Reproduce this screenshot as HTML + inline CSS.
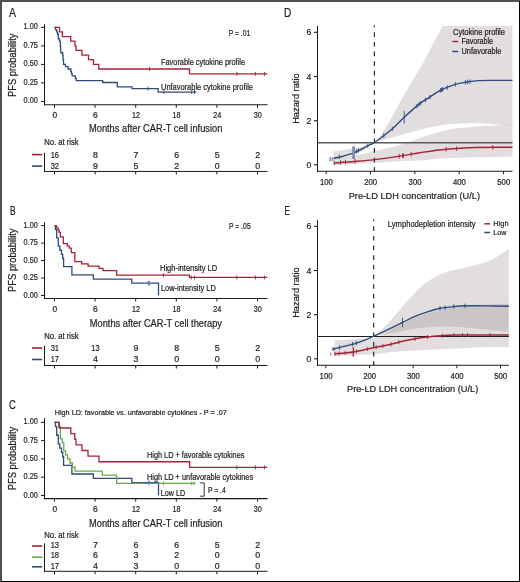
<!DOCTYPE html><html><head><meta charset="utf-8"><style>svg text{stroke:#231f20;stroke-width:0.22px}html,body{margin:0;padding:0;background:#fff;width:520px;height:582px;overflow:hidden;position:relative}</style></head><body><svg width="520" height="582" viewBox="0 0 520 582" style="position:absolute;left:0;top:0;font-family:'Liberation Sans',sans-serif;will-change:transform">
<rect x="0" y="0" width="520" height="582" fill="#ffffff"/>
<text x="9.0" y="16.8" font-size="12.2" textLength="7.0" lengthAdjust="spacingAndGlyphs" fill="#231f20">A</text>
<line x1="44.5" y1="24.2" x2="44.5" y2="105.25" stroke="#1a1a1a" stroke-width="1.0"/>
<line x1="41.0" y1="27.3" x2="44.5" y2="27.3" stroke="#1a1a1a" stroke-width="1.0"/>
<text x="37.9" y="29.3" font-size="9.0" text-anchor="end" textLength="14.3" lengthAdjust="spacingAndGlyphs" fill="#231f20">1.00</text>
<line x1="41.0" y1="45.9" x2="44.5" y2="45.9" stroke="#1a1a1a" stroke-width="1.0"/>
<text x="37.9" y="47.9" font-size="9.0" text-anchor="end" textLength="14.3" lengthAdjust="spacingAndGlyphs" fill="#231f20">0.75</text>
<line x1="41.0" y1="64.4" x2="44.5" y2="64.4" stroke="#1a1a1a" stroke-width="1.0"/>
<text x="37.9" y="66.4" font-size="9.0" text-anchor="end" textLength="14.3" lengthAdjust="spacingAndGlyphs" fill="#231f20">0.50</text>
<line x1="41.0" y1="82.9" x2="44.5" y2="82.9" stroke="#1a1a1a" stroke-width="1.0"/>
<text x="37.9" y="84.9" font-size="9.0" text-anchor="end" textLength="14.3" lengthAdjust="spacingAndGlyphs" fill="#231f20">0.25</text>
<line x1="41.0" y1="101.4" x2="44.5" y2="101.4" stroke="#1a1a1a" stroke-width="1.0"/>
<text x="37.9" y="103.4" font-size="9.0" text-anchor="end" textLength="14.3" lengthAdjust="spacingAndGlyphs" fill="#231f20">0.00</text>
<line x1="44.0" y1="104.75" x2="267.5" y2="104.75" stroke="#1a1a1a" stroke-width="1.1"/>
<line x1="54.5" y1="104.75" x2="54.5" y2="107.75" stroke="#1a1a1a" stroke-width="1.0"/>
<text x="54.8" y="118.4" font-size="8.4" text-anchor="middle" fill="#231f20">0</text>
<line x1="95.1" y1="104.75" x2="95.1" y2="107.75" stroke="#1a1a1a" stroke-width="1.0"/>
<text x="95.39999999999999" y="118.4" font-size="8.4" text-anchor="middle" fill="#231f20">6</text>
<line x1="135.7" y1="104.75" x2="135.7" y2="107.75" stroke="#1a1a1a" stroke-width="1.0"/>
<text x="136.0" y="118.4" font-size="8.4" text-anchor="middle" textLength="8.03" lengthAdjust="spacingAndGlyphs" fill="#231f20">12</text>
<line x1="176.3" y1="104.75" x2="176.3" y2="107.75" stroke="#1a1a1a" stroke-width="1.0"/>
<text x="176.60000000000002" y="118.4" font-size="8.4" text-anchor="middle" textLength="8.03" lengthAdjust="spacingAndGlyphs" fill="#231f20">18</text>
<line x1="216.9" y1="104.75" x2="216.9" y2="107.75" stroke="#1a1a1a" stroke-width="1.0"/>
<text x="217.20000000000002" y="118.4" font-size="8.4" text-anchor="middle" textLength="8.03" lengthAdjust="spacingAndGlyphs" fill="#231f20">24</text>
<line x1="257.5" y1="104.75" x2="257.5" y2="107.75" stroke="#1a1a1a" stroke-width="1.0"/>
<text x="257.8" y="118.4" font-size="8.4" text-anchor="middle" textLength="8.03" lengthAdjust="spacingAndGlyphs" fill="#231f20">30</text>
<text transform="translate(16.1,65.3) rotate(-90)" font-size="11.0" text-anchor="middle" textLength="63.4" lengthAdjust="spacingAndGlyphs" fill="#231f20">PFS probability</text>
<text x="89.0" y="132.4" font-size="10.3" textLength="133.3" lengthAdjust="spacingAndGlyphs" fill="#231f20">Months after CAR-T cell infusion</text>
<text x="44.2" y="145.0" font-size="8.2" textLength="34.5" lengthAdjust="spacingAndGlyphs" fill="#231f20">No. at risk</text>
<line x1="44.5" y1="152.9" x2="44.5" y2="171.95" stroke="#1a1a1a" stroke-width="1.0"/>
<line x1="44.0" y1="171.45" x2="267.5" y2="171.45" stroke="#1a1a1a" stroke-width="1.0"/>
<line x1="54.5" y1="171.45" x2="54.5" y2="174.45" stroke="#1a1a1a" stroke-width="1.0"/>
<line x1="95.1" y1="171.45" x2="95.1" y2="174.45" stroke="#1a1a1a" stroke-width="1.0"/>
<line x1="135.7" y1="171.45" x2="135.7" y2="174.45" stroke="#1a1a1a" stroke-width="1.0"/>
<line x1="176.3" y1="171.45" x2="176.3" y2="174.45" stroke="#1a1a1a" stroke-width="1.0"/>
<line x1="216.9" y1="171.45" x2="216.9" y2="174.45" stroke="#1a1a1a" stroke-width="1.0"/>
<line x1="257.5" y1="171.45" x2="257.5" y2="174.45" stroke="#1a1a1a" stroke-width="1.0"/>
<text x="54.8" y="157.5" font-size="8.8" text-anchor="middle" textLength="8.32" lengthAdjust="spacingAndGlyphs" fill="#231f20">16</text>
<text x="95.39999999999999" y="157.5" font-size="8.8" text-anchor="middle" fill="#231f20">8</text>
<text x="136.0" y="157.5" font-size="8.8" text-anchor="middle" fill="#231f20">7</text>
<text x="176.60000000000002" y="157.5" font-size="8.8" text-anchor="middle" fill="#231f20">6</text>
<text x="217.20000000000002" y="157.5" font-size="8.8" text-anchor="middle" fill="#231f20">5</text>
<text x="257.8" y="157.5" font-size="8.8" text-anchor="middle" fill="#231f20">2</text>
<line x1="32.0" y1="154.6" x2="42.2" y2="154.6" stroke="#a52339" stroke-width="1.6"/>
<text x="54.8" y="168.7" font-size="8.8" text-anchor="middle" textLength="8.32" lengthAdjust="spacingAndGlyphs" fill="#231f20">32</text>
<text x="95.39999999999999" y="168.7" font-size="8.8" text-anchor="middle" fill="#231f20">9</text>
<text x="136.0" y="168.7" font-size="8.8" text-anchor="middle" fill="#231f20">5</text>
<text x="176.60000000000002" y="168.7" font-size="8.8" text-anchor="middle" fill="#231f20">2</text>
<text x="217.20000000000002" y="168.7" font-size="8.8" text-anchor="middle" fill="#231f20">0</text>
<text x="257.8" y="168.7" font-size="8.8" text-anchor="middle" fill="#231f20">0</text>
<line x1="32.0" y1="166.1" x2="42.2" y2="166.1" stroke="#2f4b7b" stroke-width="1.6"/>
<text x="228.8" y="35.6" font-size="8.2" textLength="21.4" lengthAdjust="spacingAndGlyphs" fill="#231f20">P = .01</text>
<text x="161.0" y="64.9" font-size="8.3" textLength="84.0" lengthAdjust="spacingAndGlyphs" fill="#231f20">Favorable cytokine profile</text>
<text x="161.0" y="89.7" font-size="8.3" textLength="92.0" lengthAdjust="spacingAndGlyphs" fill="#231f20">Unfavorable cytokine profile</text>
<path d="M54.5,27.3 H55.5 V29.615625 H56.5 V31.93125 H57.5 V34.246875 H58.3 V38.878125 H59.5 V41.19375 H60.3 V45.825 H60.6 V50.45625 H60.8 V52.771874999999994 H62.7 V55.0875 H63.0 V59.71875 H63.5 V64.35 H65.4 V66.66562499999999 H68.1 V68.98125 H70.8 V71.296875 H71.5 V73.6125 H72.2 V75.928125 H75.4 V78.24374999999999 H76.2 V80.559375 H102.7 V82.5 H117.3 V86.8 H132.0 V88.65 H158.2 V92.1 H196.3" fill="none" stroke="#2f4b7b" stroke-width="1.3" stroke-linejoin="miter"/>
<path d="M54.5,27.3 H59.5 V31.93125 H62.3 V36.5625 H70.7 V41.19375 H75.0 V45.825 H76.0 V50.45625 H81.9 V55.0875 H88.5 V59.71875 H93.5 V64.35 H98.8 V68.98125 H189.4 V73.9 H267.2" fill="none" stroke="#a52339" stroke-width="1.3" stroke-linejoin="miter"/>
<line x1="149.6" y1="66.98125" x2="149.6" y2="70.98125" stroke="#a52339" stroke-width="0.9"/>
<line x1="236.9" y1="71.9" x2="236.9" y2="75.9" stroke="#a52339" stroke-width="0.9"/>
<line x1="255.4" y1="71.9" x2="255.4" y2="75.9" stroke="#a52339" stroke-width="0.9"/>
<line x1="264.6" y1="71.9" x2="264.6" y2="75.9" stroke="#a52339" stroke-width="0.9"/>
<line x1="148.0" y1="86.65" x2="148.0" y2="90.65" stroke="#2f4b7b" stroke-width="0.9"/>
<line x1="163.8" y1="90.1" x2="163.8" y2="94.1" stroke="#2f4b7b" stroke-width="0.9"/>
<line x1="191.7" y1="90.1" x2="191.7" y2="94.1" stroke="#2f4b7b" stroke-width="0.9"/>
<line x1="194.5" y1="90.1" x2="194.5" y2="94.1" stroke="#2f4b7b" stroke-width="0.9"/>
<text x="9.9" y="214.6" font-size="12.2" textLength="5.7" lengthAdjust="spacingAndGlyphs" fill="#231f20">B</text>
<line x1="44.5" y1="222.1" x2="44.5" y2="299.0" stroke="#1a1a1a" stroke-width="1.0"/>
<line x1="41.0" y1="225.6" x2="44.5" y2="225.6" stroke="#1a1a1a" stroke-width="1.0"/>
<text x="37.9" y="227.6" font-size="9.0" text-anchor="end" textLength="14.3" lengthAdjust="spacingAndGlyphs" fill="#231f20">1.00</text>
<line x1="41.0" y1="243.1" x2="44.5" y2="243.1" stroke="#1a1a1a" stroke-width="1.0"/>
<text x="37.9" y="245.1" font-size="9.0" text-anchor="end" textLength="14.3" lengthAdjust="spacingAndGlyphs" fill="#231f20">0.75</text>
<line x1="41.0" y1="260.55" x2="44.5" y2="260.55" stroke="#1a1a1a" stroke-width="1.0"/>
<text x="37.9" y="262.55" font-size="9.0" text-anchor="end" textLength="14.3" lengthAdjust="spacingAndGlyphs" fill="#231f20">0.50</text>
<line x1="41.0" y1="278.0" x2="44.5" y2="278.0" stroke="#1a1a1a" stroke-width="1.0"/>
<text x="37.9" y="280.0" font-size="9.0" text-anchor="end" textLength="14.3" lengthAdjust="spacingAndGlyphs" fill="#231f20">0.25</text>
<line x1="41.0" y1="295.5" x2="44.5" y2="295.5" stroke="#1a1a1a" stroke-width="1.0"/>
<text x="37.9" y="297.5" font-size="9.0" text-anchor="end" textLength="14.3" lengthAdjust="spacingAndGlyphs" fill="#231f20">0.00</text>
<line x1="44.0" y1="298.5" x2="267.5" y2="298.5" stroke="#1a1a1a" stroke-width="1.1"/>
<line x1="54.5" y1="298.5" x2="54.5" y2="301.5" stroke="#1a1a1a" stroke-width="1.0"/>
<text x="54.8" y="312.1" font-size="8.4" text-anchor="middle" fill="#231f20">0</text>
<line x1="95.1" y1="298.5" x2="95.1" y2="301.5" stroke="#1a1a1a" stroke-width="1.0"/>
<text x="95.39999999999999" y="312.1" font-size="8.4" text-anchor="middle" fill="#231f20">6</text>
<line x1="135.7" y1="298.5" x2="135.7" y2="301.5" stroke="#1a1a1a" stroke-width="1.0"/>
<text x="136.0" y="312.1" font-size="8.4" text-anchor="middle" textLength="8.03" lengthAdjust="spacingAndGlyphs" fill="#231f20">12</text>
<line x1="176.3" y1="298.5" x2="176.3" y2="301.5" stroke="#1a1a1a" stroke-width="1.0"/>
<text x="176.60000000000002" y="312.1" font-size="8.4" text-anchor="middle" textLength="8.03" lengthAdjust="spacingAndGlyphs" fill="#231f20">18</text>
<line x1="216.9" y1="298.5" x2="216.9" y2="301.5" stroke="#1a1a1a" stroke-width="1.0"/>
<text x="217.20000000000002" y="312.1" font-size="8.4" text-anchor="middle" textLength="8.03" lengthAdjust="spacingAndGlyphs" fill="#231f20">24</text>
<line x1="257.5" y1="298.5" x2="257.5" y2="301.5" stroke="#1a1a1a" stroke-width="1.0"/>
<text x="257.8" y="312.1" font-size="8.4" text-anchor="middle" textLength="8.03" lengthAdjust="spacingAndGlyphs" fill="#231f20">30</text>
<text transform="translate(16.1,260.2) rotate(-90)" font-size="11.0" text-anchor="middle" textLength="63.4" lengthAdjust="spacingAndGlyphs" fill="#231f20">PFS probability</text>
<text x="89.8" y="326.7" font-size="10.3" textLength="132.2" lengthAdjust="spacingAndGlyphs" fill="#231f20">Months after CAR-T cell therapy</text>
<text x="44.2" y="339.2" font-size="8.2" textLength="34.5" lengthAdjust="spacingAndGlyphs" fill="#231f20">No. at risk</text>
<line x1="44.5" y1="345.8" x2="44.5" y2="366.0" stroke="#1a1a1a" stroke-width="1.0"/>
<line x1="44.0" y1="365.5" x2="267.5" y2="365.5" stroke="#1a1a1a" stroke-width="1.0"/>
<line x1="54.5" y1="365.5" x2="54.5" y2="368.5" stroke="#1a1a1a" stroke-width="1.0"/>
<line x1="95.1" y1="365.5" x2="95.1" y2="368.5" stroke="#1a1a1a" stroke-width="1.0"/>
<line x1="135.7" y1="365.5" x2="135.7" y2="368.5" stroke="#1a1a1a" stroke-width="1.0"/>
<line x1="176.3" y1="365.5" x2="176.3" y2="368.5" stroke="#1a1a1a" stroke-width="1.0"/>
<line x1="216.9" y1="365.5" x2="216.9" y2="368.5" stroke="#1a1a1a" stroke-width="1.0"/>
<line x1="257.5" y1="365.5" x2="257.5" y2="368.5" stroke="#1a1a1a" stroke-width="1.0"/>
<text x="54.8" y="350.8" font-size="8.8" text-anchor="middle" textLength="8.32" lengthAdjust="spacingAndGlyphs" fill="#231f20">31</text>
<text x="95.39999999999999" y="350.8" font-size="8.8" text-anchor="middle" textLength="8.32" lengthAdjust="spacingAndGlyphs" fill="#231f20">13</text>
<text x="136.0" y="350.8" font-size="8.8" text-anchor="middle" fill="#231f20">9</text>
<text x="176.60000000000002" y="350.8" font-size="8.8" text-anchor="middle" fill="#231f20">8</text>
<text x="217.20000000000002" y="350.8" font-size="8.8" text-anchor="middle" fill="#231f20">5</text>
<text x="257.8" y="350.8" font-size="8.8" text-anchor="middle" fill="#231f20">2</text>
<line x1="32.0" y1="348.0" x2="42.2" y2="348.0" stroke="#a52339" stroke-width="1.6"/>
<text x="54.8" y="361.8" font-size="8.8" text-anchor="middle" textLength="8.32" lengthAdjust="spacingAndGlyphs" fill="#231f20">17</text>
<text x="95.39999999999999" y="361.8" font-size="8.8" text-anchor="middle" fill="#231f20">4</text>
<text x="136.0" y="361.8" font-size="8.8" text-anchor="middle" fill="#231f20">3</text>
<text x="176.60000000000002" y="361.8" font-size="8.8" text-anchor="middle" fill="#231f20">0</text>
<text x="217.20000000000002" y="361.8" font-size="8.8" text-anchor="middle" fill="#231f20">0</text>
<text x="257.8" y="361.8" font-size="8.8" text-anchor="middle" fill="#231f20">0</text>
<line x1="32.0" y1="359.5" x2="42.2" y2="359.5" stroke="#2f4b7b" stroke-width="1.6"/>
<text x="229.0" y="228.8" font-size="8.2" textLength="21.7" lengthAdjust="spacingAndGlyphs" fill="#231f20">P = .05</text>
<text x="160.0" y="271.2" font-size="8.3" textLength="57.2" lengthAdjust="spacingAndGlyphs" fill="#231f20">High-intensity LD</text>
<text x="161.0" y="291.2" font-size="8.3" textLength="54.8" lengthAdjust="spacingAndGlyphs" fill="#231f20">Low-intensity LD</text>
<path d="M54.5,225.6 H55.5 V229.71176470588236 H56.7 V237.93529411764706 H58.3 V246.15882352941176 H59.8 V250.2705882352941 H61.5 V254.38235294117646 H62.7 V258.49411764705883 H63.6 V266.7176470588235 H71.9 V274.94117647058823 H93.3 V279.0529411764706 H131.8 V283.16470588235296 H158.5 V295.5 H158.5" fill="none" stroke="#2f4b7b" stroke-width="1.3" stroke-linejoin="miter"/>
<path d="M54.5,225.6 H56.5 V227.8548387096774 H58.1 V230.10967741935482 H59.2 V232.36451612903224 H60.4 V236.8741935483871 H63.3 V243.63870967741934 H67.3 V245.89354838709676 H69.2 V248.14838709677417 H71.3 V252.65806451612903 H74.8 V261.6774193548387 H81.7 V263.93225806451613 H88.1 V266.18709677419355 H99.0 V268.44193548387096 H103.0 V270.6967741935484 H116.6 V275.2064516129032 H189.4 V277.4612903225806 H267.2" fill="none" stroke="#a52339" stroke-width="1.3" stroke-linejoin="miter"/>
<line x1="163.5" y1="273.2064516129032" x2="163.5" y2="277.2064516129032" stroke="#a52339" stroke-width="0.9"/>
<line x1="191.3" y1="275.4612903225806" x2="191.3" y2="279.4612903225806" stroke="#a52339" stroke-width="0.9"/>
<line x1="194.6" y1="275.4612903225806" x2="194.6" y2="279.4612903225806" stroke="#a52339" stroke-width="0.9"/>
<line x1="236.8" y1="275.4612903225806" x2="236.8" y2="279.4612903225806" stroke="#a52339" stroke-width="0.9"/>
<line x1="255.4" y1="275.4612903225806" x2="255.4" y2="279.4612903225806" stroke="#a52339" stroke-width="0.9"/>
<line x1="264.6" y1="275.4612903225806" x2="264.6" y2="279.4612903225806" stroke="#a52339" stroke-width="0.9"/>
<line x1="148.9" y1="280.86470588235295" x2="148.9" y2="285.464705882353" stroke="#6f84a8" stroke-width="2.4"/>
<text x="9.1" y="408.7" font-size="12.2" textLength="6.8" lengthAdjust="spacingAndGlyphs" fill="#231f20">C</text>
<text x="54.8" y="414.5" font-size="7.9" textLength="172.0" lengthAdjust="spacingAndGlyphs" fill="#231f20">High LD: favorable vs. unfavorable cytokines - P = .07</text>
<line x1="44.5" y1="418.3" x2="44.5" y2="499.15" stroke="#1a1a1a" stroke-width="1.0"/>
<line x1="41.0" y1="422.35" x2="44.5" y2="422.35" stroke="#1a1a1a" stroke-width="1.0"/>
<text x="37.9" y="424.35" font-size="9.0" text-anchor="end" textLength="14.3" lengthAdjust="spacingAndGlyphs" fill="#231f20">1.00</text>
<line x1="41.0" y1="440.6" x2="44.5" y2="440.6" stroke="#1a1a1a" stroke-width="1.0"/>
<text x="37.9" y="442.6" font-size="9.0" text-anchor="end" textLength="14.3" lengthAdjust="spacingAndGlyphs" fill="#231f20">0.75</text>
<line x1="41.0" y1="458.9" x2="44.5" y2="458.9" stroke="#1a1a1a" stroke-width="1.0"/>
<text x="37.9" y="460.9" font-size="9.0" text-anchor="end" textLength="14.3" lengthAdjust="spacingAndGlyphs" fill="#231f20">0.50</text>
<line x1="41.0" y1="477.2" x2="44.5" y2="477.2" stroke="#1a1a1a" stroke-width="1.0"/>
<text x="37.9" y="479.2" font-size="9.0" text-anchor="end" textLength="14.3" lengthAdjust="spacingAndGlyphs" fill="#231f20">0.25</text>
<line x1="41.0" y1="495.5" x2="44.5" y2="495.5" stroke="#1a1a1a" stroke-width="1.0"/>
<text x="37.9" y="497.5" font-size="9.0" text-anchor="end" textLength="14.3" lengthAdjust="spacingAndGlyphs" fill="#231f20">0.00</text>
<line x1="44.0" y1="498.65" x2="267.5" y2="498.65" stroke="#1a1a1a" stroke-width="1.1"/>
<line x1="54.5" y1="498.65" x2="54.5" y2="501.65" stroke="#1a1a1a" stroke-width="1.0"/>
<text x="54.8" y="512.0" font-size="8.4" text-anchor="middle" fill="#231f20">0</text>
<line x1="95.1" y1="498.65" x2="95.1" y2="501.65" stroke="#1a1a1a" stroke-width="1.0"/>
<text x="95.39999999999999" y="512.0" font-size="8.4" text-anchor="middle" fill="#231f20">6</text>
<line x1="135.7" y1="498.65" x2="135.7" y2="501.65" stroke="#1a1a1a" stroke-width="1.0"/>
<text x="136.0" y="512.0" font-size="8.4" text-anchor="middle" textLength="8.03" lengthAdjust="spacingAndGlyphs" fill="#231f20">12</text>
<line x1="176.3" y1="498.65" x2="176.3" y2="501.65" stroke="#1a1a1a" stroke-width="1.0"/>
<text x="176.60000000000002" y="512.0" font-size="8.4" text-anchor="middle" textLength="8.03" lengthAdjust="spacingAndGlyphs" fill="#231f20">18</text>
<line x1="216.9" y1="498.65" x2="216.9" y2="501.65" stroke="#1a1a1a" stroke-width="1.0"/>
<text x="217.20000000000002" y="512.0" font-size="8.4" text-anchor="middle" textLength="8.03" lengthAdjust="spacingAndGlyphs" fill="#231f20">24</text>
<line x1="257.5" y1="498.65" x2="257.5" y2="501.65" stroke="#1a1a1a" stroke-width="1.0"/>
<text x="257.8" y="512.0" font-size="8.4" text-anchor="middle" textLength="8.03" lengthAdjust="spacingAndGlyphs" fill="#231f20">30</text>
<text transform="translate(16.1,458.5) rotate(-90)" font-size="11.0" text-anchor="middle" textLength="63.4" lengthAdjust="spacingAndGlyphs" fill="#231f20">PFS probability</text>
<text x="89.0" y="526.5999999999999" font-size="10.3" textLength="133.3" lengthAdjust="spacingAndGlyphs" fill="#231f20">Months after CAR-T cell infusion</text>
<text x="44.2" y="538.0" font-size="8.2" textLength="34.5" lengthAdjust="spacingAndGlyphs" fill="#231f20">No. at risk</text>
<line x1="44.5" y1="543.3" x2="44.5" y2="571.8" stroke="#1a1a1a" stroke-width="1.0"/>
<line x1="44.0" y1="571.3" x2="267.5" y2="571.3" stroke="#1a1a1a" stroke-width="1.0"/>
<line x1="54.5" y1="571.3" x2="54.5" y2="574.3" stroke="#1a1a1a" stroke-width="1.0"/>
<line x1="95.1" y1="571.3" x2="95.1" y2="574.3" stroke="#1a1a1a" stroke-width="1.0"/>
<line x1="135.7" y1="571.3" x2="135.7" y2="574.3" stroke="#1a1a1a" stroke-width="1.0"/>
<line x1="176.3" y1="571.3" x2="176.3" y2="574.3" stroke="#1a1a1a" stroke-width="1.0"/>
<line x1="216.9" y1="571.3" x2="216.9" y2="574.3" stroke="#1a1a1a" stroke-width="1.0"/>
<line x1="257.5" y1="571.3" x2="257.5" y2="574.3" stroke="#1a1a1a" stroke-width="1.0"/>
<text x="54.8" y="548.0" font-size="8.8" text-anchor="middle" textLength="8.32" lengthAdjust="spacingAndGlyphs" fill="#231f20">13</text>
<text x="95.39999999999999" y="548.0" font-size="8.8" text-anchor="middle" fill="#231f20">7</text>
<text x="136.0" y="548.0" font-size="8.8" text-anchor="middle" fill="#231f20">6</text>
<text x="176.60000000000002" y="548.0" font-size="8.8" text-anchor="middle" fill="#231f20">6</text>
<text x="217.20000000000002" y="548.0" font-size="8.8" text-anchor="middle" fill="#231f20">5</text>
<text x="257.8" y="548.0" font-size="8.8" text-anchor="middle" fill="#231f20">2</text>
<line x1="32.0" y1="546.0" x2="42.2" y2="546.0" stroke="#a52339" stroke-width="1.6"/>
<text x="54.8" y="557.6" font-size="8.8" text-anchor="middle" textLength="8.32" lengthAdjust="spacingAndGlyphs" fill="#231f20">18</text>
<text x="95.39999999999999" y="557.6" font-size="8.8" text-anchor="middle" fill="#231f20">6</text>
<text x="136.0" y="557.6" font-size="8.8" text-anchor="middle" fill="#231f20">3</text>
<text x="176.60000000000002" y="557.6" font-size="8.8" text-anchor="middle" fill="#231f20">2</text>
<text x="217.20000000000002" y="557.6" font-size="8.8" text-anchor="middle" fill="#231f20">0</text>
<text x="257.8" y="557.6" font-size="8.8" text-anchor="middle" fill="#231f20">0</text>
<line x1="32.0" y1="557.2" x2="42.2" y2="557.2" stroke="#67a84a" stroke-width="1.6"/>
<text x="54.8" y="568.7" font-size="8.8" text-anchor="middle" textLength="8.32" lengthAdjust="spacingAndGlyphs" fill="#231f20">17</text>
<text x="95.39999999999999" y="568.7" font-size="8.8" text-anchor="middle" fill="#231f20">4</text>
<text x="136.0" y="568.7" font-size="8.8" text-anchor="middle" fill="#231f20">3</text>
<text x="176.60000000000002" y="568.7" font-size="8.8" text-anchor="middle" fill="#231f20">0</text>
<text x="217.20000000000002" y="568.7" font-size="8.8" text-anchor="middle" fill="#231f20">0</text>
<text x="257.8" y="568.7" font-size="8.8" text-anchor="middle" fill="#231f20">0</text>
<line x1="32.0" y1="566.8" x2="42.2" y2="566.8" stroke="#2f4b7b" stroke-width="1.6"/>
<text x="147.0" y="457.5" font-size="8.3" textLength="97.4" lengthAdjust="spacingAndGlyphs" fill="#231f20">High LD + favorable cytokines</text>
<text x="147.0" y="479.5" font-size="8.3" textLength="106.1" lengthAdjust="spacingAndGlyphs" fill="#231f20">High LD + unfavorable cytokines</text>
<text x="160.8" y="496.0" font-size="8.3" textLength="24.3" lengthAdjust="spacingAndGlyphs" fill="#231f20">Low LD</text>
<text x="207.9" y="493.4" font-size="8.2" textLength="17.9" lengthAdjust="spacingAndGlyphs" fill="#231f20">P = .4</text>
<path d="M199.8,482.9 H204.2 V496.2 H199.8" fill="none" stroke="#231f20" stroke-width="0.9"/>
<path d="M54.5,422.35 H55.5 V426.6529411764706 H56.7 V435.2588235294118 H58.3 V443.86470588235295 H59.8 V448.16764705882355 H61.5 V452.47058823529414 H62.7 V456.77352941176474 H63.6 V465.3794117647059 H71.9 V473.9852941176471 H93.3 V478.28823529411767 H131.8 V482.59117647058827 H158.5 V495.5 H158.5" fill="none" stroke="#2f4b7b" stroke-width="1.3" stroke-linejoin="miter"/>
<path d="M54.5,422.35 H58.5 V426.4138888888889 H60.4 V438.60555555555555 H62.3 V442.6694444444445 H63.8 V450.7972222222223 H65.6 V454.86111111111114 H67.5 V458.925 H70.0 V462.98888888888894 H72.4 V467.0527777777778 H75.0 V471.1166666666667 H102.3 V475.1805555555556 H116.6 V483.30833333333334 H195.4" fill="none" stroke="#67a84a" stroke-width="1.3" stroke-linejoin="miter"/>
<path d="M54.5,422.35 H59.2 V427.9769230769231 H70.8 V433.6038461538462 H74.8 V439.2307692307693 H76.0 V444.85769230769233 H82.0 V450.4846153846154 H88.0 V456.1115384615385 H99.0 V461.7384615384616 H189.7 V467.36538461538464 H267.2" fill="none" stroke="#a52339" stroke-width="1.3" stroke-linejoin="miter"/>
<line x1="236.8" y1="465.36538461538464" x2="236.8" y2="469.36538461538464" stroke="#a52339" stroke-width="0.9"/>
<line x1="255.4" y1="465.36538461538464" x2="255.4" y2="469.36538461538464" stroke="#a52339" stroke-width="0.9"/>
<line x1="264.6" y1="465.36538461538464" x2="264.6" y2="469.36538461538464" stroke="#a52339" stroke-width="0.9"/>
<line x1="163.5" y1="481.30833333333334" x2="163.5" y2="485.30833333333334" stroke="#67a84a" stroke-width="0.9"/>
<line x1="191.7" y1="481.30833333333334" x2="191.7" y2="485.30833333333334" stroke="#67a84a" stroke-width="0.9"/>
<line x1="194.2" y1="481.30833333333334" x2="194.2" y2="485.30833333333334" stroke="#67a84a" stroke-width="0.9"/>
<line x1="148.9" y1="480.3911764705883" x2="148.9" y2="484.79117647058825" stroke="#5a7099" stroke-width="1.4"/>
<text x="284.0" y="16.7" font-size="12.2" textLength="7.3" lengthAdjust="spacingAndGlyphs" fill="#231f20">D</text>
<path d="M333.5,151.5 C336.83,151.00 346.70,149.97 353.50,148.50 C360.30,147.03 369.55,145.28 374.30,142.70 C379.05,140.12 379.38,136.70 382.00,133.00 C384.62,129.30 386.80,126.00 390.00,120.50 C393.20,115.00 397.53,106.50 401.20,100.00 C404.87,93.50 408.37,87.67 412.00,81.50 C415.63,75.33 417.92,72.25 423.00,63.00 C428.08,53.75 439.25,32.17 442.50,26.00 L512.5,26 L512.5,125.5 L512.5,125.5 C510.68,125.42 507.68,125.38 501.60,125.00 C495.52,124.62 485.27,123.27 476.00,123.20 C466.73,123.13 455.33,123.50 446.00,124.60 C436.67,125.70 429.33,127.52 420.00,129.80 C410.67,132.08 397.62,136.15 390.00,138.30 C382.38,140.45 379.30,140.42 374.30,142.70 C369.30,144.98 366.80,149.12 360.00,152.00 C353.20,154.88 337.92,158.67 333.50,160.00 Z" fill="rgba(134,118,126,0.24)"/>
<path d="M334,158 C338.33,157.42 353.28,155.63 360.00,154.50 C366.72,153.37 367.63,152.78 374.30,151.20 C380.97,149.62 392.38,147.20 400.00,145.00 C407.62,142.80 412.33,140.47 420.00,138.00 C427.67,135.53 436.67,132.10 446.00,130.20 C455.33,128.30 466.73,127.43 476.00,126.60 C485.27,125.77 495.52,125.50 501.60,125.20 C507.68,124.90 510.68,124.87 512.50,124.80 L512.5,156.8 C501.42,157.03 461.42,157.57 446.00,158.20 C430.58,158.83 427.67,160.10 420.00,160.60 C412.33,161.10 410.00,160.70 400.00,161.20 C390.00,161.70 371.00,162.93 360.00,163.60 C349.00,164.27 338.33,164.93 334.00,165.20 Z" fill="rgba(134,118,126,0.24)" stroke="none"/>
<line x1="317.5" y1="142.75" x2="512.5" y2="142.75" stroke="#5a5a5a" stroke-width="1.5"/>
<path d="M374.4,25.6 V171.27" stroke="#2a2a2a" stroke-width="1.2" stroke-dasharray="4.7 4.95" stroke-dashoffset="3.0" fill="none"/>
<g>
<line x1="317.5" y1="26.0" x2="317.5" y2="171.77" stroke="#1a1a1a" stroke-width="1.0"/>
<line x1="314.0" y1="32.3" x2="317.5" y2="32.3" stroke="#1a1a1a" stroke-width="1.1"/>
<text x="311.2" y="35.3" font-size="8.6" text-anchor="end" fill="#231f20">6</text>
<line x1="314.0" y1="76.5" x2="317.5" y2="76.5" stroke="#1a1a1a" stroke-width="1.1"/>
<text x="311.2" y="79.5" font-size="8.6" text-anchor="end" fill="#231f20">4</text>
<line x1="314.0" y1="120.7" x2="317.5" y2="120.7" stroke="#1a1a1a" stroke-width="1.1"/>
<text x="311.2" y="123.7" font-size="8.6" text-anchor="end" fill="#231f20">2</text>
<line x1="314.0" y1="164.85" x2="317.5" y2="164.85" stroke="#1a1a1a" stroke-width="1.1"/>
<text x="311.2" y="167.85" font-size="8.6" text-anchor="end" fill="#231f20">0</text>
<line x1="317.0" y1="171.27" x2="512.5" y2="171.27" stroke="#1a1a1a" stroke-width="1.0"/>
<line x1="326.15" y1="171.27" x2="326.15" y2="174.27" stroke="#1a1a1a" stroke-width="1.0"/>
<text x="326.34999999999997" y="184.8" font-size="8.2" text-anchor="middle" textLength="12.9" lengthAdjust="spacingAndGlyphs" fill="#231f20">100</text>
<line x1="370.5" y1="171.27" x2="370.5" y2="174.27" stroke="#1a1a1a" stroke-width="1.0"/>
<text x="370.7" y="184.8" font-size="8.2" text-anchor="middle" textLength="12.9" lengthAdjust="spacingAndGlyphs" fill="#231f20">200</text>
<line x1="414.85" y1="171.27" x2="414.85" y2="174.27" stroke="#1a1a1a" stroke-width="1.0"/>
<text x="415.05" y="184.8" font-size="8.2" text-anchor="middle" textLength="12.9" lengthAdjust="spacingAndGlyphs" fill="#231f20">300</text>
<line x1="459.2" y1="171.27" x2="459.2" y2="174.27" stroke="#1a1a1a" stroke-width="1.0"/>
<text x="459.4" y="184.8" font-size="8.2" text-anchor="middle" textLength="12.9" lengthAdjust="spacingAndGlyphs" fill="#231f20">400</text>
<line x1="503.56" y1="171.27" x2="503.56" y2="174.27" stroke="#1a1a1a" stroke-width="1.0"/>
<text x="503.76" y="184.8" font-size="8.2" text-anchor="middle" textLength="12.9" lengthAdjust="spacingAndGlyphs" fill="#231f20">500</text>
<text x="348.7" y="199.0" font-size="9.6" textLength="131.3" lengthAdjust="spacingAndGlyphs" fill="#231f20">Pre-LD LDH concentration (U/L)</text>
<text transform="translate(299.2,98.6) rotate(-90)" font-size="9.6" text-anchor="middle" textLength="50.5" lengthAdjust="spacingAndGlyphs" fill="#231f20">Hazard ratio</text>
</g>
<path d="M333.6,158.5 C336.77,157.63 346.87,155.45 352.60,153.30 C358.33,151.15 364.38,147.37 368.00,145.60 C371.62,143.83 371.58,144.43 374.30,142.70 C377.02,140.97 381.18,137.60 384.30,135.20 C387.42,132.80 389.68,131.28 393.00,128.30 C396.32,125.32 399.95,121.25 404.20,117.30 C408.45,113.35 414.38,107.87 418.50,104.60 C422.62,101.33 425.25,100.08 428.90,97.70 C432.55,95.32 435.98,92.53 440.40,90.30 C444.82,88.07 450.97,85.68 455.40,84.30 C459.83,82.92 463.15,82.62 467.00,82.00 C470.85,81.38 473.83,80.87 478.50,80.60 C483.17,80.33 489.33,80.43 495.00,80.40 C500.67,80.37 509.58,80.40 512.50,80.40" fill="none" stroke="#2f4b7b" stroke-width="1.4"/>
<path d="M334.1,163.0 C337.50,162.75 347.80,162.07 354.50,161.50 C361.20,160.93 366.72,160.50 374.30,159.60 C381.88,158.70 392.38,157.25 400.00,156.10 C407.62,154.95 412.30,153.85 420.00,152.70 C427.70,151.55 436.87,150.07 446.20,149.20 C455.53,148.33 464.95,147.82 476.00,147.50 C487.05,147.18 506.42,147.33 512.50,147.30" fill="none" stroke="#a52339" stroke-width="1.4"/>
<line x1="339.3" y1="154.74" x2="339.3" y2="159.14" stroke="#2f4b7b" stroke-width="0.9"/>
<line x1="356.6" y1="149.10000000000002" x2="356.6" y2="153.5" stroke="#2f4b7b" stroke-width="0.9"/>
<line x1="358.4" y1="148.20000000000005" x2="358.4" y2="152.60000000000002" stroke="#2f4b7b" stroke-width="0.9"/>
<line x1="367.8" y1="143.5" x2="367.8" y2="147.89999999999998" stroke="#2f4b7b" stroke-width="0.9"/>
<line x1="383.8" y1="133.375" x2="383.8" y2="137.77499999999998" stroke="#2f4b7b" stroke-width="0.9"/>
<line x1="392.3" y1="126.6551724137931" x2="392.3" y2="131.0551724137931" stroke="#2f4b7b" stroke-width="0.9"/>
<line x1="416.9" y1="103.82097902097904" x2="416.9" y2="108.22097902097904" stroke="#2f4b7b" stroke-width="0.9"/>
<line x1="418.9" y1="102.13461538461539" x2="418.9" y2="106.53461538461539" stroke="#2f4b7b" stroke-width="0.9"/>
<line x1="420.8" y1="100.87403846153845" x2="420.8" y2="105.27403846153845" stroke="#2f4b7b" stroke-width="0.9"/>
<line x1="425.4" y1="97.82211538461539" x2="425.4" y2="102.22211538461539" stroke="#2f4b7b" stroke-width="0.9"/>
<line x1="430" y1="94.79217391304347" x2="430" y2="99.19217391304348" stroke="#2f4b7b" stroke-width="0.9"/>
<line x1="440.4" y1="88.1" x2="440.4" y2="92.5" stroke="#2f4b7b" stroke-width="0.9"/>
<line x1="441.5" y1="87.65999999999998" x2="441.5" y2="92.05999999999999" stroke="#2f4b7b" stroke-width="0.9"/>
<line x1="442.7" y1="87.17999999999999" x2="442.7" y2="91.58" stroke="#2f4b7b" stroke-width="0.9"/>
<line x1="447.3" y1="85.33999999999997" x2="447.3" y2="89.73999999999998" stroke="#2f4b7b" stroke-width="0.9"/>
<line x1="455.4" y1="82.1" x2="455.4" y2="86.5" stroke="#2f4b7b" stroke-width="0.9"/>
<line x1="465.4" y1="80.11724137931034" x2="465.4" y2="84.51724137931035" stroke="#2f4b7b" stroke-width="0.9"/>
<line x1="467.7" y1="79.71478260869566" x2="467.7" y2="84.11478260869566" stroke="#2f4b7b" stroke-width="0.9"/>
<line x1="470" y1="79.43478260869564" x2="470" y2="83.83478260869565" stroke="#2f4b7b" stroke-width="0.9"/>
<line x1="404.2" y1="111.1" x2="404.2" y2="123.5" stroke="#2f4b7b" stroke-width="0.9"/>
<rect x="352.2" y="146.3" width="2.8" height="12.7" fill="#7b8dab"/>
<rect x="329.3" y="157" width="1.6" height="4.3" fill="#8fa0bb"/><rect x="331.6" y="157" width="1.6" height="4.3" fill="#8fa0bb"/>
<line x1="334.1" y1="160.7" x2="334.1" y2="165.3" stroke="#a52339" stroke-width="0.9"/>
<line x1="340.5" y1="160.22941176470587" x2="340.5" y2="164.8294117647059" stroke="#a52339" stroke-width="0.9"/>
<line x1="345.5" y1="159.86176470588234" x2="345.5" y2="164.46176470588236" stroke="#a52339" stroke-width="0.9"/>
<line x1="355.1" y1="159.14242424242423" x2="355.1" y2="163.74242424242425" stroke="#a52339" stroke-width="0.9"/>
<line x1="399.2" y1="153.9089494163424" x2="399.2" y2="158.50894941634243" stroke="#a52339" stroke-width="0.9"/>
<line x1="402.6" y1="153.35799999999998" x2="402.6" y2="157.958" stroke="#a52339" stroke-width="0.9"/>
<line x1="403.5" y1="153.20499999999998" x2="403.5" y2="157.805" stroke="#a52339" stroke-width="0.9"/>
<line x1="411.2" y1="151.896" x2="411.2" y2="156.496" stroke="#a52339" stroke-width="0.9"/>
<line x1="446.2" y1="146.89999999999998" x2="446.2" y2="151.5" stroke="#a52339" stroke-width="0.9"/>
<line x1="456.6" y1="146.30671140939594" x2="456.6" y2="150.90671140939597" stroke="#a52339" stroke-width="0.9"/>
<line x1="492.8" y1="145.10794520547944" x2="492.8" y2="149.70794520547946" stroke="#a52339" stroke-width="0.9"/>
<text x="453.0" y="34.6" font-size="8.2" textLength="52.0" lengthAdjust="spacingAndGlyphs" fill="#231f20">Cytokine profile</text>
<line x1="452.3" y1="41.5" x2="458.2" y2="41.5" stroke="#a52339" stroke-width="1.5"/>
<text x="461.5" y="43.8" font-size="8.2" textLength="31.5" lengthAdjust="spacingAndGlyphs" fill="#231f20">Favorable</text>
<line x1="452.3" y1="51.5" x2="458.2" y2="51.5" stroke="#2f4b7b" stroke-width="1.5"/>
<text x="461.5" y="53.8" font-size="8.2" textLength="40.0" lengthAdjust="spacingAndGlyphs" fill="#231f20">Unfavorable</text>
<text x="284.4" y="215.0" font-size="12.2" textLength="5.5" lengthAdjust="spacingAndGlyphs" fill="#231f20">E</text>
<path d="M334.4,340.5 C338.43,340.22 352.05,339.52 358.60,338.80 C365.15,338.08 368.47,339.17 373.70,336.20 C378.93,333.23 383.12,328.28 390.00,321.00 C396.88,313.72 408.33,299.33 415.00,292.50 C421.67,285.67 425.00,283.33 430.00,280.00 C435.00,276.67 439.17,274.58 445.00,272.50 C450.83,270.42 458.33,269.17 465.00,267.50 C471.67,265.83 479.58,264.33 485.00,262.50 C490.42,260.67 493.53,258.80 497.50,256.50 C501.47,254.20 506.92,250.00 508.80,248.70 L508.8,332 C505.67,331.67 497.30,330.75 490.00,330.00 C482.70,329.25 473.33,328.08 465.00,327.50 C456.67,326.92 448.33,326.28 440.00,326.50 C431.67,326.72 423.33,327.58 415.00,328.80 C406.67,330.02 396.88,332.57 390.00,333.80 C383.12,335.03 378.93,334.83 373.70,336.20 C368.47,337.57 365.15,340.37 358.60,342.00 C352.05,343.63 338.43,345.33 334.40,346.00 Z" fill="rgba(134,118,126,0.24)" stroke="none"/>
<path d="M334.4,346 C340.95,344.70 365.27,340.28 373.70,338.20 C382.13,336.12 381.45,335.28 385.00,333.50 C388.55,331.72 390.00,330.08 395.00,327.50 C400.00,324.92 407.50,320.92 415.00,318.00 C422.50,315.08 431.67,312.08 440.00,310.00 C448.33,307.92 456.67,306.47 465.00,305.50 C473.33,304.53 482.70,304.50 490.00,304.20 C497.30,303.90 505.67,303.78 508.80,303.70 L508.8,347.5 C505.67,347.42 501.47,346.70 490.00,347.00 C478.53,347.30 452.50,348.72 440.00,349.30 C427.50,349.88 423.33,350.00 415.00,350.50 C406.67,351.00 396.88,351.67 390.00,352.30 C383.12,352.93 382.97,353.63 373.70,354.30 C364.43,354.97 340.95,355.97 334.40,356.30 Z" fill="rgba(134,118,126,0.24)" stroke="none"/>
<line x1="317.5" y1="336.5" x2="508.9" y2="336.5" stroke="#1e1e1e" stroke-width="1.0"/>
<path d="M373.7,219.6 V365.27" stroke="#2a2a2a" stroke-width="1.2" stroke-dasharray="4.7 4.95" stroke-dashoffset="3.0" fill="none"/>
<g>
<line x1="317.5" y1="220.0" x2="317.5" y2="365.77" stroke="#1a1a1a" stroke-width="1.0"/>
<line x1="314.0" y1="226.3" x2="317.5" y2="226.3" stroke="#1a1a1a" stroke-width="1.1"/>
<text x="311.2" y="229.3" font-size="8.6" text-anchor="end" fill="#231f20">6</text>
<line x1="314.0" y1="270.5" x2="317.5" y2="270.5" stroke="#1a1a1a" stroke-width="1.1"/>
<text x="311.2" y="273.5" font-size="8.6" text-anchor="end" fill="#231f20">4</text>
<line x1="314.0" y1="314.7" x2="317.5" y2="314.7" stroke="#1a1a1a" stroke-width="1.1"/>
<text x="311.2" y="317.7" font-size="8.6" text-anchor="end" fill="#231f20">2</text>
<line x1="314.0" y1="358.85" x2="317.5" y2="358.85" stroke="#1a1a1a" stroke-width="1.1"/>
<text x="311.2" y="361.85" font-size="8.6" text-anchor="end" fill="#231f20">0</text>
<line x1="317.0" y1="365.27" x2="508.9" y2="365.27" stroke="#1a1a1a" stroke-width="1.0"/>
<line x1="325.85" y1="365.27" x2="325.85" y2="368.27" stroke="#1a1a1a" stroke-width="1.0"/>
<text x="326.05" y="378.9" font-size="8.2" text-anchor="middle" textLength="12.9" lengthAdjust="spacingAndGlyphs" fill="#231f20">100</text>
<line x1="369.5" y1="365.27" x2="369.5" y2="368.27" stroke="#1a1a1a" stroke-width="1.0"/>
<text x="369.7" y="378.9" font-size="8.2" text-anchor="middle" textLength="12.9" lengthAdjust="spacingAndGlyphs" fill="#231f20">200</text>
<line x1="413.2" y1="365.27" x2="413.2" y2="368.27" stroke="#1a1a1a" stroke-width="1.0"/>
<text x="413.4" y="378.9" font-size="8.2" text-anchor="middle" textLength="12.9" lengthAdjust="spacingAndGlyphs" fill="#231f20">300</text>
<line x1="456.85" y1="365.27" x2="456.85" y2="368.27" stroke="#1a1a1a" stroke-width="1.0"/>
<text x="457.05" y="378.9" font-size="8.2" text-anchor="middle" textLength="12.9" lengthAdjust="spacingAndGlyphs" fill="#231f20">400</text>
<line x1="500.5" y1="365.27" x2="500.5" y2="368.27" stroke="#1a1a1a" stroke-width="1.0"/>
<text x="500.7" y="378.9" font-size="8.2" text-anchor="middle" textLength="12.9" lengthAdjust="spacingAndGlyphs" fill="#231f20">500</text>
<text x="347.0" y="392.4" font-size="9.6" textLength="131.3" lengthAdjust="spacingAndGlyphs" fill="#231f20">Pre-LD LDH concentration (U/L)</text>
<text transform="translate(299.2,292.6) rotate(-90)" font-size="9.6" text-anchor="middle" textLength="50.5" lengthAdjust="spacingAndGlyphs" fill="#231f20">Hazard ratio</text>
</g>
<path d="M333.4,349.0 C337.25,348.02 349.78,345.23 356.50,343.10 C363.22,340.97 368.12,338.62 373.70,336.20 C379.28,333.78 385.20,330.88 390.00,328.60 C394.80,326.32 398.33,324.55 402.50,322.50 C406.67,320.45 410.83,318.08 415.00,316.30 C419.17,314.52 423.33,313.13 427.50,311.80 C431.67,310.47 435.62,309.18 440.00,308.30 C444.38,307.42 449.63,306.92 453.80,306.50 C457.97,306.08 458.97,305.90 465.00,305.80 C471.03,305.70 482.70,305.83 490.00,305.90 C497.30,305.97 505.67,306.15 508.80,306.20" fill="none" stroke="#2f4b7b" stroke-width="1.4"/>
<path d="M334.6,353.8 C337.73,353.50 346.88,353.02 353.40,352.00 C359.92,350.98 367.60,348.95 373.70,347.70 C379.80,346.45 385.20,345.57 390.00,344.50 C394.80,343.43 398.33,342.25 402.50,341.30 C406.67,340.35 410.83,339.52 415.00,338.80 C419.17,338.08 423.33,337.50 427.50,337.00 C431.67,336.50 435.42,336.13 440.00,335.80 C444.58,335.47 443.53,335.13 455.00,335.00 C466.47,334.87 499.83,335.00 508.80,335.00" fill="none" stroke="#a52339" stroke-width="1.4"/>
<line x1="339.5" y1="345.24199134199137" x2="339.5" y2="349.64199134199134" stroke="#2f4b7b" stroke-width="0.9"/>
<line x1="352.6" y1="341.8961038961039" x2="352.6" y2="346.2961038961039" stroke="#2f4b7b" stroke-width="0.9"/>
<line x1="356.2" y1="340.9766233766234" x2="356.2" y2="345.3766233766234" stroke="#2f4b7b" stroke-width="0.9"/>
<line x1="440" y1="306.1" x2="440" y2="310.5" stroke="#2f4b7b" stroke-width="0.9"/>
<line x1="445" y1="305.4478260869565" x2="445" y2="309.8478260869565" stroke="#2f4b7b" stroke-width="0.9"/>
<line x1="453.8" y1="304.3" x2="453.8" y2="308.7" stroke="#2f4b7b" stroke-width="0.9"/>
<line x1="465" y1="303.6" x2="465" y2="308.0" stroke="#2f4b7b" stroke-width="0.9"/>
<line x1="402.5" y1="317.7" x2="402.5" y2="327.3" stroke="#2f4b7b" stroke-width="0.9"/>
<rect x="332.3" y="347.4" width="2.4" height="3.2" fill="#3f5985"/>
<line x1="335" y1="351.7617021276596" x2="335" y2="355.7617021276596" stroke="#a52339" stroke-width="0.9"/>
<line x1="339.1" y1="351.36914893617023" x2="339.1" y2="355.36914893617023" stroke="#a52339" stroke-width="0.9"/>
<line x1="345.2" y1="350.7851063829787" x2="345.2" y2="354.7851063829787" stroke="#a52339" stroke-width="0.9"/>
<line x1="356.6" y1="349.32216748768474" x2="356.6" y2="353.32216748768474" stroke="#a52339" stroke-width="0.9"/>
<line x1="367.4" y1="347.0344827586207" x2="367.4" y2="351.0344827586207" stroke="#a52339" stroke-width="0.9"/>
<line x1="376.1" y1="345.2288343558282" x2="376.1" y2="349.2288343558282" stroke="#a52339" stroke-width="0.9"/>
<line x1="382.9" y1="343.8938650306748" x2="382.9" y2="347.8938650306748" stroke="#a52339" stroke-width="0.9"/>
<line x1="391" y1="342.244" x2="391" y2="346.244" stroke="#a52339" stroke-width="0.9"/>
<line x1="398.8" y1="340.2472" x2="398.8" y2="344.2472" stroke="#a52339" stroke-width="0.9"/>
<line x1="415" y1="336.8" x2="415" y2="340.8" stroke="#a52339" stroke-width="0.9"/>
<line x1="427.5" y1="335.0" x2="427.5" y2="339.0" stroke="#a52339" stroke-width="0.9"/>
<line x1="442.5" y1="333.6666666666667" x2="442.5" y2="337.6666666666667" stroke="#a52339" stroke-width="0.9"/>
<line x1="453.8" y1="333.064" x2="453.8" y2="337.064" stroke="#a52339" stroke-width="0.9"/>
<line x1="462.5" y1="333.0" x2="462.5" y2="337.0" stroke="#a52339" stroke-width="0.9"/>
<line x1="467.5" y1="333.0" x2="467.5" y2="337.0" stroke="#a52339" stroke-width="0.9"/>
<line x1="490" y1="333.0" x2="490" y2="337.0" stroke="#a52339" stroke-width="0.9"/>
<line x1="353.3" y1="347.20957446808507" x2="353.3" y2="356.8095744680851" stroke="#a52339" stroke-width="1.3"/>
<rect x="330.0" y="352.6" width="1.4" height="3.2" fill="#d08a96"/>
<text x="387.8" y="226.5" font-size="8.2" textLength="87.8" lengthAdjust="spacingAndGlyphs" fill="#231f20">Lymphodepletion intensity</text>
<line x1="484.3" y1="223.8" x2="490.1" y2="223.8" stroke="#a52339" stroke-width="1.5"/>
<text x="493.3" y="226.0" font-size="7.8" textLength="15.2" lengthAdjust="spacingAndGlyphs" fill="#231f20">High</text>
<line x1="484.3" y1="232.5" x2="490.1" y2="232.5" stroke="#2f4b7b" stroke-width="1.5"/>
<text x="493.3" y="235.1" font-size="7.8" textLength="13.2" lengthAdjust="spacingAndGlyphs" fill="#231f20">Low</text>
</svg>
<div style="position:absolute;left:0;top:0;width:520px;height:1.5px;background:#505050"></div>
<div style="position:absolute;left:0;top:0;width:1.5px;height:582px;background:#505050"></div>
<div style="position:absolute;left:518.6px;top:1px;width:1.4px;height:581px;background:#000"></div>
<div style="position:absolute;left:1px;top:580.6px;width:519px;height:1.4px;background:#000"></div></body></html>
